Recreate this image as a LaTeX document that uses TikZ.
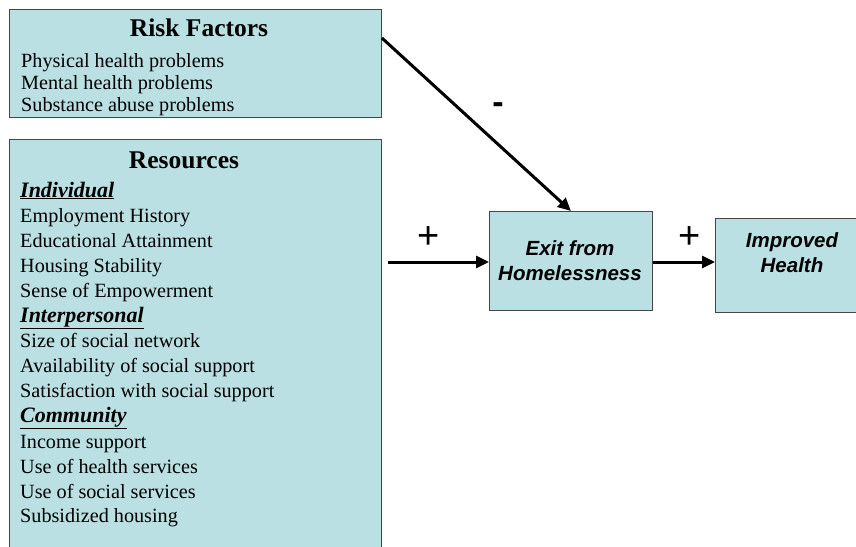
\documentclass[tikz,border=0pt]{standalone}
\usepackage{fontspec}
\setmainfont{Liberation Serif}
\newfontfamily\arialf{Liberation Sans}
\usetikzlibrary{arrows.meta,calc}
\definecolor{boxfill}{RGB}{187,224,227}
\definecolor{boxline}{RGB}{70,70,70}
\tikzset{
  panel/.style={draw=boxline, line width=0.9pt, fill=boxfill, rectangle, inner sep=0pt, anchor=north west},
  item/.style={anchor=base west, inner sep=0pt, font=\fontsize{20.2}{24}\selectfont},
  ttl/.style={anchor=base, inner sep=0pt, font=\fontsize{25.5}{30}\selectfont\bfseries},
  sub/.style={anchor=base west, inner sep=0pt, font=\fontsize{22}{26}\selectfont\bfseries\itshape},
  sans/.style={inner sep=0pt, align=center, font=\arialf\fontsize{20.5}{25}\selectfont\bfseries\itshape},
  sign/.style={anchor=center, inner sep=0pt, font=\arialf\fontsize{38}{40}\selectfont},
  conn/.style={line width=3pt, -{Triangle[length=13pt,width=12pt]}, shorten >=0pt}
}
\begin{document}
\begin{tikzpicture}[x=1pt,y=-1pt]
\useasboundingbox (0,0) rectangle (856,546);
% boxes
\node[panel, minimum width=372pt, minimum height=108pt] (rf) at (9,9) {};
\node[panel, minimum width=372pt, minimum height=420pt] (res) at (9,139) {};
\node[panel, minimum width=163pt, minimum height=99pt] (exit) at (489,211) {};
\node[panel, minimum width=160pt, minimum height=94pt] (ih) at (715,218) {};
% risk factors text
\node[ttl] (rft) at (199,36) {Risk Factors};
\node[item] (rf1) at (21,67) {Physical health problems};
\node[item] (rf2) at (21,89) {Mental health problems};
\node[item] (rf3) at (21,111) {Substance abuse problems};
% resources text
\node[ttl] (rest) at (184,168) {Resources};
\node[sub] (ind) at (20,197) {\underline{Individual}};
\node[item] (r1) at (20,222) {Employment History};
\node[item] (r2) at (20,247) {Educational Attainment};
\node[item] (r3) at (20,272) {Housing Stability};
\node[item] (r4) at (20,297) {Sense of Empowerment};
\node[sub] (inter) at (20,322) {\underline{Interpersonal}};
\node[item] (r5) at (20,347) {Size of social network};
\node[item] (r6) at (20,372) {Availability of social support};
\node[item] (r7) at (20,397) {Satisfaction with social support};
\node[sub] (comm) at (20,422) {\underline{Community}};
\node[item] (r8) at (20,448) {Income support};
\node[item] (r9) at (20,473) {Use of health services};
\node[item] (r10) at (20,498) {Use of social services};
\node[item] (r11) at (20,522) {Subsidized housing};
% outcome texts
\node[sans] (exitt) at (570,261) {Exit from\\Homelessness};
\node[sans] (iht) at (792,253) {Improved\\Health};
% connectors
\coordinate (rfout) at ($(rf.north east)+(0,29)$);
\coordinate (resout) at (388,262);
\draw[conn] (rfout) -- (exit.north);
\draw[conn] (resout) -- (resout -| exit.west);
\draw[conn] (exit.east |- resout) -- (resout -| ih.west);
% signs
\node[sign, font=\arialf\fontsize{34}{36}\selectfont\bfseries] (minus) at (498,108) {-};
\node[sign] (plus1) at (429,238) {+};
\node[sign] (plus2) at (690,238) {+};
\end{tikzpicture}
\end{document}
